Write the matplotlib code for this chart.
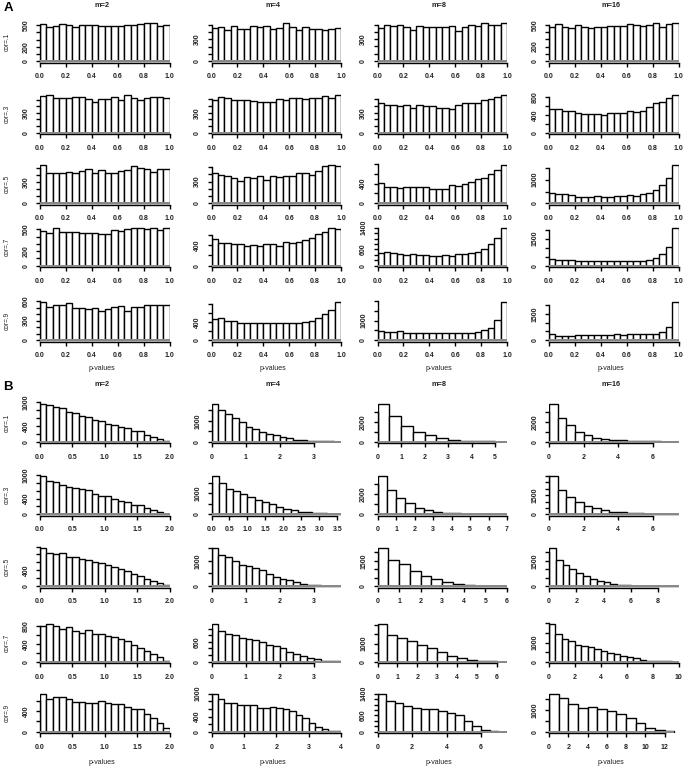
import numpy as np
import matplotlib
matplotlib.use("Agg")
import matplotlib.pyplot as plt

W, H, DPI = 685, 768, 100

# ---------------- data ----------------
row_labels = ["cor=.1", "cor=.3", "cor=.5", "cor=.7", "cor=.9"]
col_titles = ["m=2", "m=4", "m=8", "m=16"]

# Panel A: 20 bins of width 0.05 on [0, 1]
A_BIN = 0.05
a1_m2 = [514, 477, 495, 519, 509, 477, 500, 500, 509, 491, 491, 495, 495, 509, 505, 514, 528, 532, 486, 509]
a1_m4 = [458, 468, 426, 491, 440, 449, 491, 477, 491, 440, 454, 528, 477, 431, 477, 440, 440, 431, 449, 454]
a1_m8 = [449, 491, 486, 491, 472, 431, 481, 463, 463, 472, 472, 477, 417, 468, 491, 477, 519, 495, 495, 523]
a1_m16 = [477, 514, 472, 458, 505, 468, 458, 472, 472, 481, 481, 491, 519, 505, 486, 495, 528, 477, 514, 523]

a2_m2 = [554, 575, 523, 523, 523, 534, 534, 508, 461, 508, 508, 534, 492, 565, 518, 492, 528, 534, 534, 523]
a2_m4 = [487, 539, 518, 492, 492, 492, 482, 461, 461, 461, 503, 492, 528, 523, 508, 518, 518, 549, 523, 570]
a2_m8 = [440, 415, 415, 404, 409, 373, 409, 399, 399, 373, 378, 358, 420, 451, 451, 451, 492, 513, 539, 570]
a2_m16 = [533, 533, 494, 494, 447, 431, 431, 431, 400, 447, 447, 447, 494, 471, 494, 588, 667, 690, 784, 863]

a3_m2 = [533, 429, 419, 429, 438, 419, 452, 486, 419, 467, 429, 429, 452, 467, 524, 500, 486, 443, 476, 476]
a3_m4 = [419, 390, 371, 343, 314, 357, 343, 371, 324, 381, 357, 381, 381, 414, 419, 390, 448, 514, 524, 510]
a3_m8 = [421, 337, 330, 316, 337, 330, 337, 330, 295, 295, 281, 372, 344, 393, 442, 491, 519, 596, 667, 772]
a3_m16 = [448, 403, 388, 343, 269, 269, 269, 313, 284, 254, 313, 313, 358, 328, 403, 448, 567, 791, 1090, 1612]

a4_m2 = [482, 450, 523, 464, 464, 464, 455, 455, 450, 441, 441, 486, 477, 509, 514, 514, 500, 523, 486, 514]
a4_m4 = [523, 445, 452, 426, 426, 394, 400, 387, 419, 432, 387, 471, 445, 458, 497, 548, 626, 658, 742, 710]
a4_m8 = [463, 488, 451, 415, 390, 415, 390, 390, 366, 366, 390, 366, 427, 427, 463, 488, 598, 817, 1037, 1402]
a4_m16 = [350, 290, 290, 290, 260, 260, 260, 260, 260, 260, 260, 260, 260, 260, 270, 340, 440, 640, 1040, 2100]

a5_m2 = [585, 510, 535, 535, 565, 500, 500, 475, 485, 450, 475, 510, 520, 450, 510, 510, 540, 535, 535, 540]
a5_m4 = [473, 495, 415, 415, 385, 385, 385, 385, 378, 385, 385, 385, 385, 385, 400, 415, 487, 582, 669, 851]
a5_m8 = [467, 400, 433, 467, 383, 383, 383, 350, 383, 383, 383, 383, 383, 383, 383, 417, 500, 617, 1050, 1950]
a5_m16 = [375, 244, 244, 244, 300, 300, 300, 300, 300, 300, 319, 300, 319, 319, 319, 319, 375, 469, 750, 2195]

a_xticklabels = ["0.0", "0.2", "0.4", "0.6", "0.8", "1.0"]
a_ystep = [[100, 100, 100, 100], [100, 100, 100, 200], [100, 100, 200, 500],
           [100, 200, 200, 500], [100, 200, 500, 500]]
a_ylabels = [[[0, 200, 500], [0, 300], [0, 300], [0, 200, 500]],
             [[0, 300], [0, 300], [0, 300], [0, 400, 800]],
             [[0, 300], [0, 300], [0, 400], [0, 1000]],
             [[0, 200, 500], [0, 400], [0, 600, 1400], [0, 1500]],
             [[0, 300, 600], [0, 400], [0, 1000], [0, 1500]]]

# Panel B: bin widths per column / row
b_binwidth = [[0.1, 0.2, 0.5, 0.5], [0.1, 0.2, 0.5, 0.5], [0.1, 0.2, 0.5, 0.5],
              [0.1, 0.2, 0.5, 0.5], [0.1, 0.2, 0.5, 1.0]]
b1_m2 = [965, 923, 881, 850, 755, 734, 650, 629, 545, 524, 451, 420, 367, 336, 273, 262, 178, 115, 63, 26]
b1_m4 = [1815, 1508, 1308, 1154, 923, 692, 615, 462, 369, 308, 231, 154, 92, 62, 46, 31, 15, 15, 8]
b1_m8 = [3800, 2550, 1530, 930, 620, 330, 200, 100, 70, 30, 15]
b1_m16 = [3800, 2400, 1640, 990, 660, 360, 260, 190, 130, 100, 70, 35, 35, 15, 15]

b2_m2 = [965, 853, 819, 734, 691, 666, 640, 606, 520, 453, 453, 392, 341, 325, 230, 230, 162, 120, 69, 17]
b2_m4 = [1825, 1524, 1238, 1143, 952, 825, 683, 571, 476, 349, 254, 190, 127, 95, 63, 48, 32, 16]
b2_m8 = [3710, 2420, 1610, 1100, 650, 390, 230, 130, 100, 65, 32, 32, 15, 15]
b2_m16 = [2970, 1890, 1340, 960, 650, 520, 340, 210, 155, 105, 80, 50, 25, 25, 15]

b3_m2 = [965, 826, 800, 826, 748, 730, 678, 652, 609, 591, 522, 478, 435, 391, 313, 261, 183, 139, 78, 26]
b3_m4 = [1513, 1250, 1158, 1000, 855, 789, 724, 618, 474, 368, 289, 237, 158, 92, 53, 26, 13, 7, 7]
b3_m8 = [2260, 1560, 1280, 920, 600, 400, 260, 140, 60, 20, 10, 10]
b3_m16 = [2260, 1560, 1240, 1000, 800, 620, 440, 300, 220, 140, 80, 40, 20, 15, 10, 8, 5, 5, 5]

b4_m2 = [808, 854, 808, 746, 769, 685, 654, 708, 631, 615, 577, 554, 500, 462, 385, 308, 246, 177, 100, 23]
b4_m4 = [1150, 930, 850, 820, 730, 690, 650, 600, 520, 480, 400, 300, 230, 170, 100, 80, 20, 10, 10]
b4_m8 = [2090, 1455, 1310, 1130, 910, 730, 510, 330, 180, 75, 35, 18, 9]
b4_m16 = [1980, 1465, 1205, 1070, 895, 810, 740, 655, 570, 465, 395, 310, 240, 170, 105, 50, 35, 35, 17, 9]

b5_m2 = [742, 632, 677, 677, 645, 581, 581, 568, 561, 594, 561, 535, 535, 484, 452, 452, 342, 271, 161, 65]
b5_m4 = [1000, 852, 757, 757, 696, 713, 713, 635, 635, 643, 626, 609, 548, 435, 348, 235, 130, 61, 26, 9]
b5_m8 = [1402, 1134, 1061, 963, 890, 829, 854, 780, 707, 610, 390, 207, 61, 12, 6]
b5_m16 = [1770, 1585, 1277, 1108, 1138, 1046, 969, 846, 615, 385, 185, 77, 15]

xt_m2 = ["0.0", "0.5", "1.0", "1.5", "2.0"]
b_xticklabels = [
    [xt_m2, ["0", "1", "2", "3"], ["0", "1", "2", "3", "4", "5"], ["0", "2", "4", "6"]],
    [xt_m2, ["0.0", "0.5", "1.0", "1.5", "2.0", "2.5", "3.0", "3.5"],
     ["0", "1", "2", "3", "4", "5", "6", "7"], ["0", "2", "4", "6"]],
    [xt_m2, ["0", "1", "2", "3"], ["0", "1", "2", "3", "4", "5", "6"], ["0", "2", "4", "6", "8"]],
    [xt_m2, ["0", "1", "2", "3"], ["0", "1", "2", "3", "4", "5", "6"], ["0", "2", "4", "6", "8", "10"]],
    [xt_m2, ["0", "1", "2", "3", "4"], ["0", "2", "4", "6"], ["0", "2", "4", "6", "8", "10", "12"]],
]
b_ystep = [[200, 500, 1000, 1000], [200, 500, 1000, 500], [200, 500, 500, 500],
           [200, 200, 500, 500], [200, 200, 200, 500]]
b_ylabels = [[[0, 400, 1000], [0, 1000], [0, 2000], [0, 2000]],
             [[0, 400, 1000], [0, 1000], [0, 2000], [0, 1500]],
             [[0, 400], [0, 1000], [0, 1500], [0, 1500]],
             [[0, 400, 800], [0, 600], [0, 1000], [0, 1000]],
             [[0, 400], [0, 400, 1000], [0, 600, 1400], [0, 1000]]]

panel_a = [[a1_m2, a1_m4, a1_m8, a1_m16], [a2_m2, a2_m4, a2_m8, a2_m16],
           [a3_m2, a3_m4, a3_m8, a3_m16], [a4_m2, a4_m4, a4_m8, a4_m16],
           [a5_m2, a5_m4, a5_m8, a5_m16]]
panel_b = [[b1_m2, b1_m4, b1_m8, b1_m16], [b2_m2, b2_m4, b2_m8, b2_m16],
           [b3_m2, b3_m4, b3_m8, b3_m16], [b4_m2, b4_m4, b4_m8, b4_m16],
           [b5_m2, b5_m4, b5_m8, b5_m16]]

# ---------------- layout (pixels) ----------------
col_left = [40, 211.5, 377.5, 549]
col_w = 129.5
base_a = [61, 132.7, 203.3, 265.7, 340]
base_b = [441.7, 514.3, 586, 661.7, 731.7]
BAR_H = 38.0
FONT = "Liberation Sans"
FS = 5.0
LW = 1.0

fig = plt.figure(figsize=(W / DPI, H / DPI), dpi=DPI)
fig.patch.set_facecolor("white")


def fx(px):
    return px / W


def fy(py):
    return 1 - py / H


def draw_hist(left, base, counts, width, xlabels, ystep, ylabels, xmax=None):
    pad = 0.04 * BAR_H
    bottom_px = base + pad
    top_px = base - BAR_H - pad
    ax = fig.add_axes([fx(left), fy(bottom_px), fx(col_w), (bottom_px - top_px) / H])
    counts = np.asarray(counts, dtype=float)
    edges = np.arange(len(counts) + 1) * width
    M = counts.max()
    ax.bar(edges[:-1], counts, width=width, align="edge", color="white",
           edgecolor="black", linewidth=LW, zorder=2)
    ax.hlines(0, edges[0], edges[-1], color="#8a8a8a", linewidth=1.4, zorder=3)
    ax.set_xlim(0, xmax if xmax else edges[-1])
    ax.set_ylim(-0.04 * M, 1.04 * M)
    # y axis
    yt = np.arange(0, 1.04 * M + 1e-9, ystep)
    ax.set_yticks(yt)
    ax.set_yticklabels([str(int(v)) if int(v) in ylabels else "" for v in yt],
                       rotation=90, va="center", fontsize=FS, family=FONT,
                       fontweight="bold", color="#222222")
    # x axis
    xt = [float(s) for s in xlabels]
    ax.set_xticks(xt)
    ax.set_xticklabels(xlabels, fontsize=FS, family=FONT, fontweight="bold",
                       color="#222222")
    for s in ["top", "right"]:
        ax.spines[s].set_visible(False)
    ax.spines["left"].set_bounds(0, yt[-1])
    ax.spines["bottom"].set_bounds(xt[0], xt[-1])
    for s in ["left", "bottom"]:
        ax.spines[s].set_linewidth(LW)
    ax.tick_params(axis="y", length=3.0, width=LW, pad=4.5)
    ax.tick_params(axis="x", length=3.0, width=LW, pad=4.5)
    ax.patch.set_alpha(0)
    return ax


for r in range(5):
    for c in range(4):
        draw_hist(col_left[c], base_a[r], panel_a[r][c], A_BIN, a_xticklabels,
                  a_ystep[r][c], a_ylabels[r][c])
        xmax = 13.45 if (r == 4 and c == 3) else None
        draw_hist(col_left[c], base_b[r], panel_b[r][c], b_binwidth[r][c],
                  b_xticklabels[r][c], b_ystep[r][c], b_ylabels[r][c], xmax)

# texts
for c in range(4):
    cx = col_left[c] + col_w / 2 - 3
    fig.text(fx(cx), fy(5.5), col_titles[c], ha="center", va="center",
             fontsize=5.3, family=FONT, fontweight="bold", color="#222222")
    fig.text(fx(cx), fy(385), col_titles[c], ha="center", va="center",
             fontsize=5.3, family=FONT, fontweight="bold", color="#222222")
    fig.text(fx(cx), fy(369), "p-values", ha="center", va="center",
             fontsize=FS, family=FONT, color="#222222")
    fig.text(fx(cx), fy(762), "p-values", ha="center", va="center",
             fontsize=FS, family=FONT, color="#222222")

for r in range(5):
    fig.text(fx(7), fy(base_a[r] - 19), row_labels[r], rotation=90, ha="center",
             va="center", fontsize=4.7, family=FONT, color="#222222")
    fig.text(fx(7), fy(base_b[r] - 19), row_labels[r], rotation=90, ha="center",
             va="center", fontsize=4.7, family=FONT, color="#222222")

fig.text(fx(8), fy(8), "A", ha="center", va="center", fontsize=9.5,
         family=FONT, fontweight="bold")
fig.text(fx(7.5), fy(387), "B", ha="center", va="center", fontsize=9.5,
         family=FONT, fontweight="bold")

fig.savefig("out.png", dpi=DPI, facecolor="white")
